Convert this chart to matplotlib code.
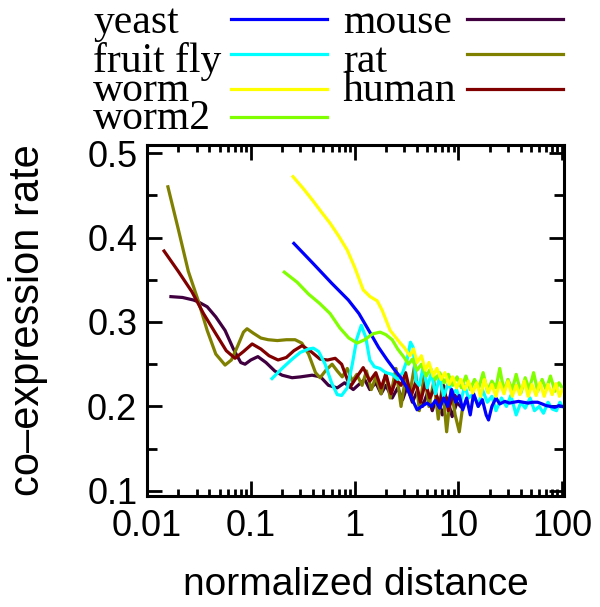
import numpy as np
import matplotlib
matplotlib.use('Agg')
import matplotlib.pyplot as plt
from matplotlib.lines import Line2D

# ---- data (x: normalized distance, y: co-expression rate)
yeast_x = [0.26, 0.4, 0.6, 0.87, 1.1, 1.4, 1.7, 2.06, 2.4, 2.75, 3.2, 3.6, 4.0, 4.4, 5.0,
           5.5, 6.0, 6.6, 7.2, 7.9, 8.6, 9.4, 10.2, 11, 12, 13, 14, 15.5, 17, 18.5, 19.5,
           21, 23, 25, 28, 31, 34, 38, 42, 47, 52, 58, 64, 70, 77, 85, 93, 100]
yeast_y = [0.393, 0.369, 0.346, 0.326, 0.31, 0.288, 0.27, 0.255, 0.244, 0.235, 0.222, 0.208,
           0.196, 0.2, 0.204, 0.2, 0.207, 0.198, 0.21, 0.2, 0.22, 0.205, 0.213, 0.196, 0.21,
           0.19, 0.215, 0.2, 0.208, 0.19, 0.184, 0.2, 0.21, 0.203, 0.206, 0.204, 0.205, 0.206,
           0.205, 0.204, 0.205, 0.205, 0.203, 0.201, 0.2, 0.199, 0.201, 0.2]

fly_x = [0.16, 0.2, 0.25, 0.3, 0.36, 0.4, 0.45, 0.52, 0.6, 0.68, 0.75, 0.85, 0.95, 1.05,
         1.16, 1.28, 1.4, 1.55, 1.75, 2.0, 2.3, 2.6, 2.9, 3.2, 3.45, 3.66, 3.9, 4.2, 4.6,
         5, 5.5, 6, 6.6, 7.2, 8, 8.8, 9.6, 10.5, 11.5, 12.5, 14, 15.5, 17, 19, 21, 23, 26,
         29, 32, 36, 40, 44, 49, 54, 60, 66, 73, 80, 88, 95, 100]
fly_y = [0.233, 0.245, 0.256, 0.264, 0.268, 0.269, 0.265, 0.25, 0.228, 0.214, 0.213, 0.222,
         0.25, 0.28, 0.296, 0.282, 0.255, 0.247, 0.245, 0.24, 0.238, 0.232, 0.24, 0.255,
         0.276, 0.27, 0.23, 0.225, 0.248, 0.222, 0.24, 0.215, 0.235, 0.212, 0.228, 0.215,
         0.22, 0.205, 0.225, 0.21, 0.215, 0.2, 0.22, 0.205, 0.212, 0.195, 0.21, 0.2, 0.213,
         0.19, 0.205, 0.198, 0.21, 0.195, 0.2, 0.192, 0.205, 0.197, 0.195, 0.205, 0.2]

worm_x = [0.255, 0.32, 0.4, 0.48, 0.58, 0.7, 0.85, 1.0, 1.21, 1.41, 1.65, 1.84, 2.2, 2.75,
          3.0, 3.4, 3.7, 4.0, 4.4, 4.8, 5.2, 5.7, 6.2, 6.8, 7.4, 8.1, 8.8, 9.6, 10.5, 11.5,
          12.5, 13.7, 15, 16.3, 17.8, 19.4, 21, 23, 25, 27.5, 30, 33, 36, 39, 43, 47, 51,
          56, 61, 67, 73, 80, 87, 94, 100]
worm_y = [0.472, 0.458, 0.443, 0.43, 0.417, 0.402, 0.385, 0.365, 0.338, 0.33, 0.325, 0.314,
          0.29, 0.275, 0.27, 0.26, 0.268, 0.252, 0.26, 0.243, 0.252, 0.236, 0.245, 0.232,
          0.24, 0.226, 0.235, 0.222, 0.232, 0.22, 0.23, 0.216, 0.228, 0.212, 0.232, 0.216,
          0.226, 0.212, 0.228, 0.215, 0.23, 0.212, 0.225, 0.214, 0.23, 0.212, 0.226, 0.213,
          0.228, 0.212, 0.226, 0.214, 0.227, 0.212, 0.22]

worm2_x = [0.21, 0.28, 0.36, 0.46, 0.58, 0.72, 0.88, 1.06, 1.25, 1.5, 1.76, 2.0, 2.3, 2.6,
           3.0, 3.3, 3.6, 4.0, 4.4, 4.9, 5.4, 6.0, 6.6, 7.3, 8, 8.8, 9.7, 10.7, 11.8, 13,
           14.3, 15.7, 17.3, 19, 21, 23, 25, 27.5, 30, 33, 36, 40, 44, 48, 53, 58, 64, 70,
           77, 85, 93, 100]
worm2_y = [0.359, 0.347, 0.333, 0.322, 0.31, 0.293, 0.281, 0.275, 0.279, 0.286, 0.288, 0.285,
           0.279, 0.268, 0.258, 0.25, 0.256, 0.243, 0.25, 0.236, 0.245, 0.232, 0.24, 0.228,
           0.238, 0.225, 0.235, 0.222, 0.236, 0.22, 0.232, 0.222, 0.24, 0.218, 0.23, 0.222,
           0.245, 0.218, 0.232, 0.22, 0.238, 0.216, 0.234, 0.22, 0.24, 0.218, 0.232, 0.22,
           0.236, 0.218, 0.228, 0.222]

mouse_x = [0.017, 0.022, 0.028, 0.031, 0.038, 0.046, 0.0565, 0.068, 0.08, 0.088, 0.1, 0.117,
           0.14, 0.17, 0.2, 0.25, 0.3, 0.39, 0.47, 0.56, 0.68, 0.8, 0.97, 1.1, 1.25, 1.4,
           1.6, 1.8, 2.0, 2.3, 2.6, 2.9, 3.2, 3.6, 4.0, 4.5, 5.0, 5.6, 6.2, 7.0, 7.8, 8.7,
           9.7, 10.5]
mouse_y = [0.33, 0.329, 0.326, 0.324, 0.318, 0.306, 0.29, 0.268, 0.252, 0.25, 0.255, 0.259,
           0.252, 0.242, 0.237, 0.234, 0.235, 0.237, 0.235, 0.225, 0.222, 0.228, 0.22, 0.226,
           0.232, 0.22, 0.228, 0.215, 0.225, 0.21, 0.222, 0.208, 0.223, 0.205, 0.218, 0.2,
           0.215, 0.195, 0.212, 0.19, 0.21, 0.188, 0.205, 0.2]

rat_x = [0.0159, 0.02, 0.025, 0.031, 0.038, 0.046, 0.0565, 0.065, 0.075, 0.085, 0.092, 0.105,
         0.125, 0.147, 0.18, 0.22, 0.267, 0.31, 0.36, 0.42, 0.465, 0.53, 0.607, 0.68, 0.76,
         0.85, 0.95, 1.05, 1.18, 1.3, 1.45, 1.6, 1.8, 2.0, 2.2, 2.5, 2.8, 3.1, 3.4, 3.8, 4.2,
         4.7, 5.2, 5.8, 6.4, 7.0, 7.7, 8.5, 9.3, 10.2, 11]
rat_y = [0.46, 0.41, 0.36, 0.326, 0.29, 0.262, 0.249, 0.255, 0.272, 0.288, 0.292, 0.287,
         0.281, 0.279, 0.278, 0.279, 0.279, 0.275, 0.262, 0.24, 0.234, 0.243, 0.25, 0.242,
         0.235, 0.245, 0.23, 0.238, 0.225, 0.242, 0.22, 0.235, 0.215, 0.24, 0.21, 0.245, 0.2,
         0.235, 0.215, 0.25, 0.195, 0.24, 0.2, 0.23, 0.185, 0.225, 0.17, 0.22, 0.19, 0.17, 0.2]

human_x = [0.0146, 0.02, 0.027, 0.035, 0.045, 0.058, 0.0705, 0.085, 0.103, 0.125, 0.15, 0.183,
           0.22, 0.26, 0.312, 0.38, 0.465, 0.55, 0.65, 0.75, 0.906, 1.05, 1.21, 1.4, 1.6, 1.8,
           2.0, 2.25, 2.5, 2.8, 3.1, 3.5, 3.9, 4.3, 4.8, 5.3, 5.9, 6.5, 7.2, 8, 8.9, 9.8]
human_y = [0.384, 0.36, 0.336, 0.31, 0.288, 0.266, 0.257, 0.265, 0.274, 0.268, 0.26, 0.255,
           0.258, 0.266, 0.272, 0.265, 0.256, 0.255, 0.257, 0.25, 0.223, 0.235, 0.246, 0.23,
           0.24, 0.222, 0.238, 0.215, 0.232, 0.225, 0.24, 0.212, 0.23, 0.205, 0.228, 0.21,
           0.222, 0.2, 0.225, 0.195, 0.215, 0.21]

names = ['yeast', 'fruit fly', 'worm', 'worm2', 'mouse', 'rat', 'human']
colors = ['#0000ff', '#00ffff', '#ffff00', '#80ff00', '#400040', '#808000', '#800000']
series = [(yeast_x, yeast_y), (fly_x, fly_y), (worm_x, worm_y), (worm2_x, worm2_y),
          (mouse_x, mouse_y), (rat_x, rat_y), (human_x, human_y)]

W, H = 600, 607
fig = plt.figure(figsize=(W / 100, H / 100), dpi=100)
ax = fig.add_axes([147 / W, 1 - 496 / H, (564 - 147) / W, (496 - 145) / H])

# draw order roughly as in the original (later ones on top)
order = [4, 5, 6, 1, 0, 3, 2]
for i in order:
    x, y = series[i]
    ax.plot(x, y, color=colors[i], lw=2.3, solid_joinstyle='round')

ax.set_xscale('log')
ax.set_xlim(0.01, 104)
ax.set_ylim(0.094, 0.5095)
ax.set_xticks([0.01, 0.1, 1, 10, 100])
ax.set_xticklabels(['0.01', '0.1', '1', '10', '100'])
ax.set_yticks([0.1, 0.2, 0.3, 0.4, 0.5])
ax.set_yticklabels(['0.1', '0.2', '0.3', '0.4', '0.5'])
ax.set_yticks([0.15, 0.25, 0.35, 0.45], minor=True)

tick_font = 'Liberation Sans'
for lab in ax.get_xticklabels() + ax.get_yticklabels():
    lab.set_family(tick_font)
    lab.set_fontsize(26)

ax.tick_params(which='both', direction='in', top=True, right=True, width=2)
ax.tick_params(which='major', length=11)
ax.tick_params(which='minor', length=5)
ax.tick_params(axis='y', which='minor', length=7)
ax.tick_params(axis='x', pad=9)
ax.tick_params(axis='y', pad=7)
for sp in ax.spines.values():
    sp.set_linewidth(2.2)

ax.set_xlabel('normalized distance', family=tick_font, fontsize=28, labelpad=17)
ax.set_ylabel('co\u2013expression rate', family=tick_font, fontsize=30, labelpad=28)

# legend drawn by hand, two columns with the line after the label
col_text = [93, 343]
col_line = [(231, 327), (467, 563)]
row_line = [19, 54, 89, 117]
row_text = [33, 72, 101, 129]
for k, (name, c) in enumerate(zip(names, colors)):
    col, row = divmod(k, 4)
    fig.text(col_text[col] / W, 1 - row_text[row] / H, name, family='Liberation Serif',
             fontsize=30, va='baseline', ha='left')
    x0, x1 = col_line[col]
    fig.add_artist(Line2D([x0 / W, x1 / W], [1 - row_line[row] / H] * 2,
                          transform=fig.transFigure, color=c, lw=2.3))

fig.savefig('out.png', dpi=100)
